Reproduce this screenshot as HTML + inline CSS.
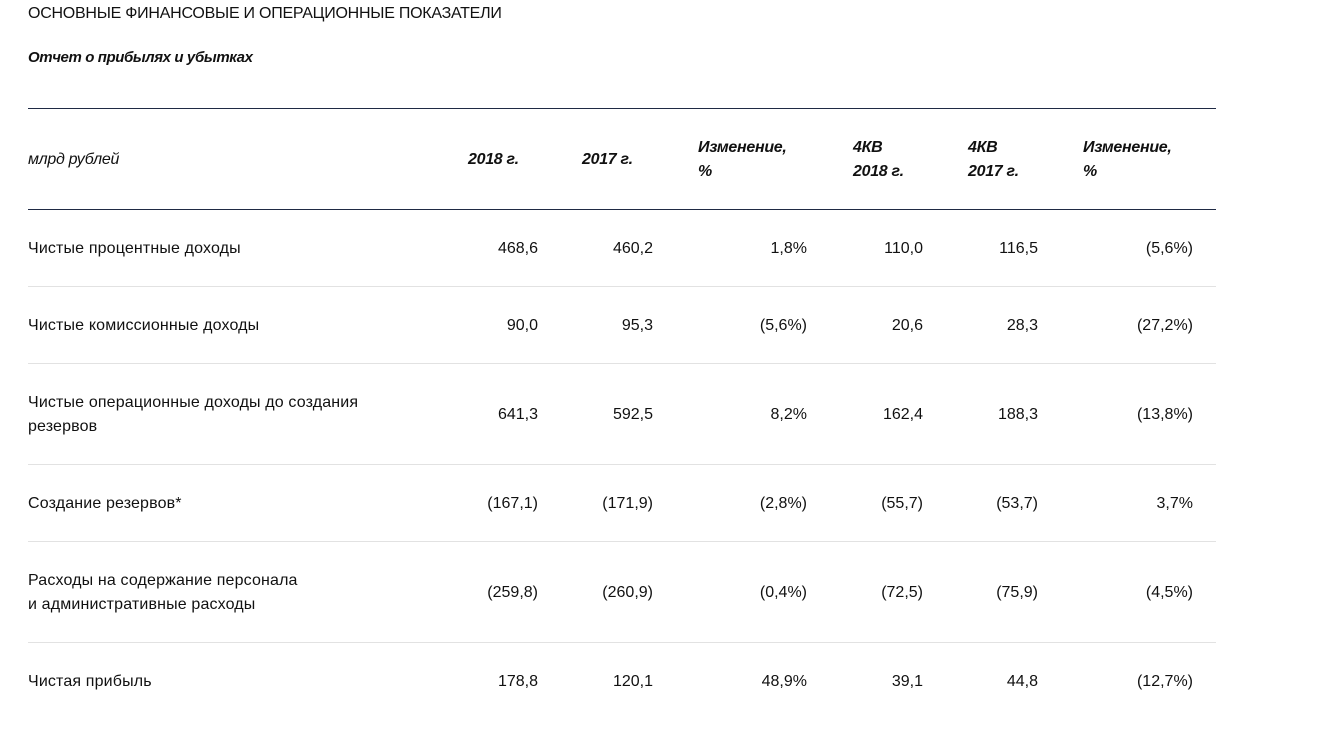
<!DOCTYPE html>
<html><head><meta charset="utf-8"><style>
body{margin:0;width:1330px;height:738px;background:#fff;font-family:"Liberation Sans","Noto Sans CJK SC",sans-serif;color:#111;position:relative;overflow:hidden}
.a{position:absolute;white-space:nowrap;font-size:16px;line-height:24px}
.r{text-align:right}
.lb{letter-spacing:0.15px}
.h{font-style:italic;font-weight:bold;letter-spacing:-0.3px}
.line{position:absolute;left:28px;width:1188px;height:1px}
</style></head><body>
<div class="a" style="left:28px;top:2px;font-size:16px;letter-spacing:-0.25px">ОСНОВНЫЕ ФИНАНСОВЫЕ И ОПЕРАЦИОННЫЕ ПОКАЗАТЕЛИ</div>
<div class="a" style="left:28px;top:46px;font-size:15px;font-style:italic;font-weight:bold;letter-spacing:-0.4px">Отчет о прибылях и убытках</div>
<div class="line" style="top:108px;background:#1f2a44"></div>
<div class="a" style="left:28px;top:148px;font-style:italic;letter-spacing:-0.3px">млрд рублей</div>
<div class="a h" style="left:468px;top:148px">2018 г.</div>
<div class="a h" style="left:582px;top:148px">2017 г.</div>
<div class="a h" style="left:698px;top:136px">Изменение,<br>%</div>
<div class="a h" style="left:853px;top:136px">4КВ<br>2018 г.</div>
<div class="a h" style="left:968px;top:136px">4КВ<br>2017 г.</div>
<div class="a h" style="left:1083px;top:136px">Изменение,<br>%</div>
<div class="line" style="top:209px;background:#1f2a44"></div>
<div id="rows"></div>
<script>
const labels=["Чистые процентные доходы","Чистые комиссионные доходы","Чистые операционные доходы до создания<br>резервов","Создание резервов*","Расходы на содержание персонала<br>и административные расходы","Чистая прибыль"];
const v2018=["468,6","90,0","641,3","(167,1)","(259,8)","178,8"];
const v2017=["460,2","95,3","592,5","(171,9)","(260,9)","120,1"];
const chY=["1,8%","(5,6%)","8,2%","(2,8%)","(0,4%)","48,9%"];
const q2018=["110,0","20,6","162,4","(55,7)","(72,5)","39,1"];
const q2017=["116,5","28,3","188,3","(53,7)","(75,9)","44,8"];
const chQ=["(5,6%)","(27,2%)","(13,8%)","3,7%","(4,5%)","(12,7%)"];
const centers=[249,326,415,504,593,682];
const seps=[286,363,464,541,642];
const root=document.getElementById('rows');
const cols=[[v2018,538,'value-2018'],[v2017,653,'value-2017'],[chY,807,'change-year'],[q2018,923,'value-4q-2018'],[q2017,1038,'value-4q-2017'],[chQ,1193,'change-quarter']];
labels.forEach((l,i)=>{
 const two=l.includes('<br>');
 const d=document.createElement('div');d.className='a lb';
 
 
 d.style.left='28px';d.style.top=(centers[i]-(two?24:12))+'px';d.innerHTML=l;root.appendChild(d);
 cols.forEach(([arr,x,n])=>{
  const c=document.createElement('div');c.className='a r';
  
  
  c.style.left=(x-120)+'px';c.style.width='120px';c.style.top=(centers[i]-12)+'px';c.textContent=arr[i];root.appendChild(c);
 });
});
seps.forEach(y=>{
 const s=document.createElement('div');s.className='line';
 
 
 s.style.top=y+'px';s.style.background='#e2e2e2';root.appendChild(s);
});
</script>
</body></html>
